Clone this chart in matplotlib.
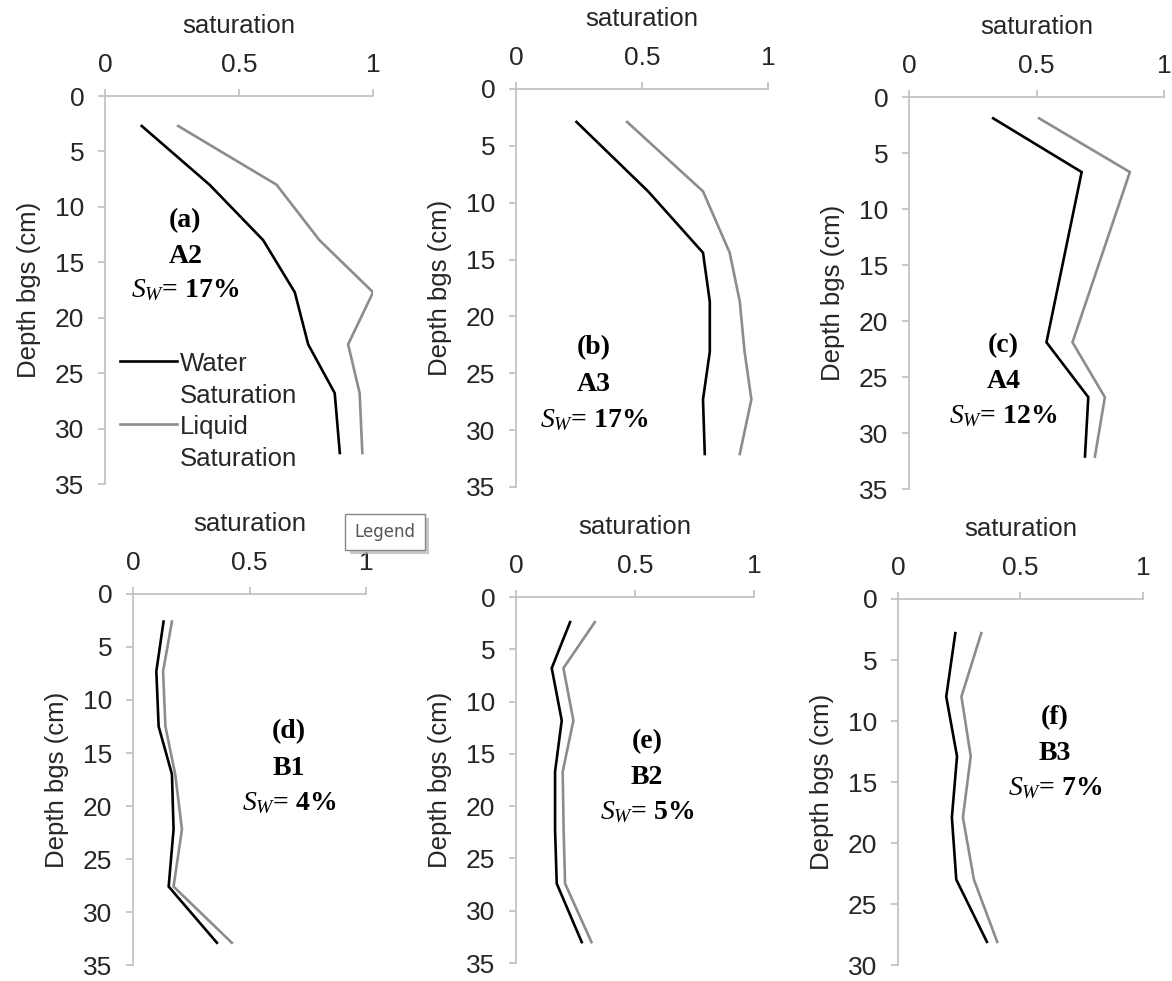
import matplotlib
matplotlib.use("Agg")
import matplotlib.pyplot as plt
import matplotlib.patheffects as pe
from matplotlib.ticker import FixedLocator

plt.rcParams['font.family'] = ['Liberation Sans', 'DejaVu Sans']
plt.rcParams['mathtext.fontset'] = 'custom'
plt.rcParams['mathtext.rm'] = 'Liberation Serif'
plt.rcParams['mathtext.it'] = 'Liberation Serif:italic'

# depth (cm) and saturation
depth_a = [2.7, 8.0, 13.0, 17.7, 22.4, 26.8, 32.2]
water_a = [0.137, 0.39, 0.59, 0.708, 0.758, 0.857, 0.876]
liquid_a = [0.273, 0.64, 0.80, 1.0, 0.907, 0.95, 0.96]

depth_b = [2.9, 9.0, 14.4, 18.7, 23.1, 27.3, 32.1]
water_b = [0.24, 0.524, 0.742, 0.769, 0.769, 0.742, 0.749]
liquid_b = [0.441, 0.742, 0.848, 0.888, 0.907, 0.934, 0.888]

depth_c = [1.9, 6.7, 21.9, 26.8, 32.1]
water_c = [0.33, 0.677, 0.539, 0.703, 0.69]
liquid_c = [0.51, 0.866, 0.641, 0.768, 0.729]

depth_d = [2.6, 7.3, 12.5, 17.0, 22.2, 27.6, 32.9]
water_d = [0.131, 0.10, 0.11, 0.167, 0.174, 0.153, 0.36]
liquid_d = [0.167, 0.129, 0.139, 0.181, 0.21, 0.174, 0.424]

depth_e = [2.4, 6.8, 11.8, 16.7, 22.3, 27.4, 33.0]
water_e = [0.227, 0.15, 0.192, 0.164, 0.164, 0.171, 0.276]
liquid_e = [0.331, 0.199, 0.241, 0.196, 0.20, 0.206, 0.317]

depth_f = [2.8, 8.0, 12.9, 17.9, 23.0, 28.1]
water_f = [0.234, 0.197, 0.241, 0.22, 0.238, 0.363]
liquid_f = [0.34, 0.259, 0.297, 0.265, 0.31, 0.405]

panel_tags = ['(a)', '(b)', '(c)', '(d)', '(e)', '(f)']
sites = ['A2', 'A3', 'A4', 'B1', 'B2', 'B3']
sw_values = ['17%', '17%', '12%', '4%', '5%', '7%']
max_depth = [35, 35, 35, 35, 35, 30]

panels = [
    (depth_a, water_a, liquid_a),
    (depth_b, water_b, liquid_b),
    (depth_c, water_c, liquid_c),
    (depth_d, water_d, liquid_d),
    (depth_e, water_e, liquid_e),
    (depth_f, water_f, liquid_f),
]

# axes boxes [left, bottom, width, height] in figure fraction
boxes = [
    [0.0896, 0.5066, 0.2287, 0.3955],
    [0.4403, 0.5036, 0.2150, 0.4057],
    [0.7756, 0.5015, 0.2176, 0.3996],
    [0.1135, 0.0163, 0.1988, 0.3782],
    [0.4403, 0.0183, 0.2031, 0.3731],
    [0.7662, 0.0163, 0.2090, 0.3731],
]
# annotation anchor (axes fraction, x and y of the tag line)
ann_pos = [
    (0.30, 0.68),
    (0.31, 0.35),
    (0.37, 0.367),
    (0.67, 0.628),
    (0.55, 0.604),
    (0.64, 0.675),
]

axis_grey = '#bfbfbf'
text_col = '#262626'

fig = plt.figure(figsize=(11.72, 9.81), dpi=100)

for i, (depth, water, liquid) in enumerate(panels):
    ax = fig.add_axes(boxes[i])
    ax.plot(water, depth, color='black', lw=1.9, label='Water\nSaturation',
            solid_joinstyle='miter')
    ax.plot(liquid, depth, color='#8c8c8c', lw=1.9, label='Liquid\nSaturation',
            solid_joinstyle='miter')
    ax.set_xlim(0, 1)
    ax.set_ylim(max_depth[i], 0)
    ax.xaxis.set_major_locator(FixedLocator([0, 0.5, 1]))
    ax.set_xticklabels(['0', '0.5', '1'])
    ax.yaxis.set_major_locator(FixedLocator(list(range(0, max_depth[i] + 1, 5))))
    ax.xaxis.tick_top()
    ax.xaxis.set_label_position('top')
    for s in ['right', 'bottom']:
        ax.spines[s].set_visible(False)
    for s in ['top', 'left']:
        ax.spines[s].set_color(axis_grey)
        ax.spines[s].set_linewidth(1.2)
    ax.tick_params(axis='both', direction='out', length=5, width=1.2,
                   color=axis_grey, labelsize=19, labelcolor=text_col)
    ax.tick_params(axis='x', pad=9)
    ax.tick_params(axis='y', pad=10)
    ax.set_xlabel('saturation', fontsize=18.5, color=text_col, labelpad=14)
    ax.set_ylabel('Depth bgs (cm)', fontsize=18.5, color=text_col, labelpad=10)
    ax.set_facecolor('none')

    x0, y0 = ann_pos[i]
    step = 0.093 if i < 3 else 0.098
    ax.text(x0, y0, panel_tags[i], transform=ax.transAxes, ha='center', va='center',
            fontsize=20, fontweight='bold', family='Liberation Serif')
    ax.text(x0, y0 - step, sites[i], transform=ax.transAxes, ha='center', va='center',
            fontsize=20, fontweight='bold', family='Liberation Serif')
    ax.text(x0, y0 - 1.95 * step, r'$S_W$= ' + sw_values[i], transform=ax.transAxes,
            ha='center', va='center', fontsize=20, fontweight='bold',
            family='Liberation Serif')

    if i == 0:
        leg = ax.legend(loc='upper left', bbox_to_anchor=(0.0, 0.38), frameon=False,
                        fontsize=18.5, handlelength=2.2, handletextpad=0.1,
                        borderaxespad=0.2, labelspacing=0.3,
                        labelcolor=text_col)
        for t in leg.get_texts():
            t.set_linespacing(1.4)
        # put the line next to the first text line, as the original does
        for col in leg._legend_handle_box.get_children():
            for row in col.get_children():
                row.align = 'top'

tip = fig.text(385 / 1172, 1 - 532 / 981, 'Legend', ha='center', va='center',
               fontsize=12, color='#555555', family='DejaVu Sans',
               bbox=dict(boxstyle='square,pad=0.55', fc='white', ec='#888888', lw=1))
tip.get_bbox_patch().set_path_effects(
    [pe.SimplePatchShadow(offset=(3, -3), shadow_rgbFace='#bbbbbb', alpha=0.8), pe.Normal()])

fig.savefig('out.png', dpi=100)
